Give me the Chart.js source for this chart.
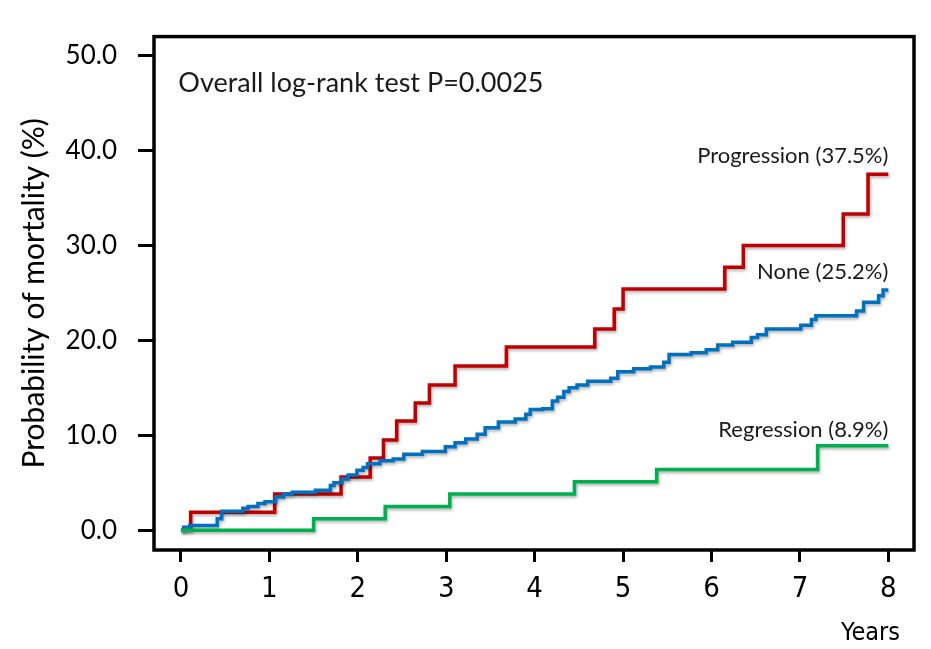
<!DOCTYPE html>
<html>
<head>
<meta charset="utf-8">
<script src="https://cdn.jsdelivr.net/npm/chart.js@4.4.1/dist/chart.umd.min.js"></script>
<style>
  html, body { margin: 0; padding: 0; background: #ffffff; }
  #wrap { position: relative; width: 931px; height: 649px; }
</style>
</head>
<body>
<div id="wrap"><canvas id="c"></canvas></div>
<script>
// ---- data (years, cumulative mortality %) ----
const xTickValues = [0, 1, 2, 3, 4, 5, 6, 7, 8];
const yTickValues = [0, 10, 20, 30, 40, 50];

const progressionTimes  = [0, 0.11, 1.06, 1.81, 2.14, 2.29, 2.44, 2.65, 2.81, 3.10, 3.68, 4.68, 4.90, 5.00, 6.15, 6.36, 7.49, 7.77, 8.00];
const progressionValues = [0, 1.9, 3.8, 5.6, 7.6, 9.5, 11.5, 13.4, 15.3, 17.3, 19.3, 21.2, 23.3, 25.4, 27.7, 30.0, 33.3, 37.5, 37.5];

const noneTimes  = [0, 0.03, 0.10, 0.41, 0.46, 0.70, 0.76, 0.87, 0.95, 1.07, 1.16, 1.26, 1.52, 1.69, 1.73, 1.82, 1.89, 1.99, 2.06, 2.11, 2.25, 2.40, 2.52, 2.73, 2.99, 3.10, 3.22, 3.35, 3.44, 3.59, 3.78, 3.90, 3.95, 4.09, 4.20, 4.26, 4.33, 4.39, 4.48, 4.60, 4.86, 4.94, 5.12, 5.31, 5.46, 5.52, 5.77, 5.94, 6.07, 6.24, 6.45, 6.52, 6.62, 7.01, 7.13, 7.18, 7.64, 7.72, 7.89, 7.94, 8.00];
const noneValues = [0, 0.3, 0.5, 1.2, 2.0, 2.3, 2.5, 2.8, 3.0, 3.5, 3.8, 4.0, 4.2, 4.7, 5.0, 5.4, 5.8, 6.3, 6.6, 7.0, 7.3, 7.5, 8.0, 8.3, 8.8, 9.2, 9.6, 10.1, 10.8, 11.4, 11.7, 12.2, 12.7, 12.8, 13.6, 14.0, 14.6, 15.0, 15.3, 15.7, 16.0, 16.7, 17.0, 17.2, 17.7, 18.5, 18.7, 19.0, 19.5, 19.8, 20.3, 20.6, 21.2, 21.6, 22.2, 22.6, 23.1, 24.0, 24.7, 25.3, 25.3];

const regressionTimes  = [0, 1.50, 2.31, 3.04, 4.45, 5.38, 7.20, 8.00];
const regressionValues = [0, 1.2, 2.5, 3.8, 5.1, 6.4, 8.9, 8.9];

const seriesNames = ['Regression', 'None', 'Progression'];
const seriesLabels = ['Regression (8.9%)', 'None (25.2%)', 'Progression (37.5%)'];
const pValueText = 'Overall log-rank test P=0.0025';
const xAxisTitle = 'Years';
const yAxisTitle = 'Probability of mortality (%)';

// ---- presentation ----
const colors = { Regression: '#00B050', None: '#0070C0', Progression: '#C00000' };
const calibriLike = 'Lato, "Noto Sans", sans-serif';
const narrowFont = '"Liberation Sans Narrow", "Arial Narrow", "DejaVu Sans Condensed", sans-serif';

function toPoints(ts, vs) { return ts.map((t, i) => ({ x: t, y: vs[i] })); }

const seriesData = {
  Regression: toPoints(regressionTimes, regressionValues),
  None: toPoints(noneTimes, noneValues),
  Progression: toPoints(progressionTimes, progressionValues)
};

// label anchors in data units (right-aligned at end of follow-up)
const labelAnchors = [
  { text: seriesLabels[2], x: 8.0, y: 39.4, align: 'right', size: 22 },
  { text: seriesLabels[1], x: 8.0, y: 27.2, align: 'right', size: 22 },
  { text: seriesLabels[0], x: 8.0, y: 10.6, align: 'right', size: 22 },
  { text: pValueText, x: -0.03, y: 47.1, align: 'left', size: 27 }
];

const framePlugin = {
  id: 'frame',
  beforeDraw(chart) {
    const ctx = chart.ctx;
    ctx.save();
    ctx.fillStyle = '#ffffff';
    ctx.fillRect(0, 0, chart.width, chart.height);
    ctx.restore();
  },
  beforeDatasetDraw(chart) {
    const ctx = chart.ctx;
    ctx.save();
    ctx.shadowColor = 'rgba(0,0,0,0.3)';
    ctx.shadowBlur = 3;
    ctx.shadowOffsetX = 1;
    ctx.shadowOffsetY = 2;
  },
  afterDatasetDraw(chart) {
    chart.ctx.restore();
  },
  afterDraw(chart) {
    const ctx = chart.ctx;
    const a = chart.chartArea;
    const xs = chart.scales.x, ys = chart.scales.y;
    ctx.save();
    ctx.strokeStyle = '#000';
    ctx.lineWidth = 3.5;
    ctx.strokeRect(a.left, a.top, a.right - a.left, a.bottom - a.top);

    ctx.fillStyle = '#1a1a1a';
    ctx.textBaseline = 'middle';
    labelAnchors.forEach(l => {
      ctx.font = l.size + 'px ' + calibriLike;
      ctx.textAlign = l.align;
      ctx.fillText(l.text, xs.getPixelForValue(l.x), ys.getPixelForValue(l.y));
    });

    ctx.fillStyle = '#000';
    ctx.font = '25px ' + narrowFont;
    ctx.textAlign = 'right';
    ctx.textBaseline = 'alphabetic';
    ctx.fillText(xAxisTitle, 900, 640);
    ctx.restore();
  }
};

new Chart(document.getElementById('c'), {
  type: 'line',
  data: {
    datasets: seriesNames.map(name => ({
      label: name,
      data: seriesData[name],
      borderColor: colors[name],
      backgroundColor: colors[name],
      borderWidth: 3.5,
      pointRadius: 0,
      pointHoverRadius: 0,
      stepped: true,
      tension: 0,
      fill: false,
      clip: false
    }))
  },
  options: {
    responsive: true,
    maintainAspectRatio: false,
    animation: false,
    events: [],
    layout: { padding: { top: 33, right: 17, left: 0, bottom: 0 } },
    plugins: { legend: { display: false }, tooltip: { enabled: false } },
    scales: {
      x: {
        type: 'linear',
        min: -0.305,
        max: 8.29,
        afterBuildTicks: s => { s.ticks = xTickValues.map(v => ({ value: v })); },
        afterFit: s => { s.height = 99; },
        border: { display: false },
        grid: { drawOnChartArea: false, drawTicks: true, tickLength: 12, lineWidth: 3, color: '#000' },
        ticks: {
          color: '#000',
          padding: 10,
          maxRotation: 0,
          autoSkip: false,
          font: { family: narrowFont, size: 29 },
          callback: v => String(v)
        }
      },
      y: {
        type: 'linear',
        min: -2.09,
        max: 52.0,
        afterBuildTicks: s => { s.ticks = yTickValues.map(v => ({ value: v })); },
        afterFit: s => { s.width = 154; },
        border: { display: false },
        grid: { drawOnChartArea: false, drawTicks: true, tickLength: 16, lineWidth: 3, color: '#000' },
        ticks: {
          color: '#000',
          padding: 21,
          autoSkip: false,
          font: { family: calibriLike, size: 26 },
          callback: v => Number(v).toFixed(1)
        },
        title: {
          display: true,
          text: yAxisTitle,
          color: '#000',
          font: { family: calibriLike, size: 30 },
          padding: { top: 16, bottom: 0 }
        }
      }
    }
  },
  plugins: [framePlugin]
});
</script>
</body>
</html>
